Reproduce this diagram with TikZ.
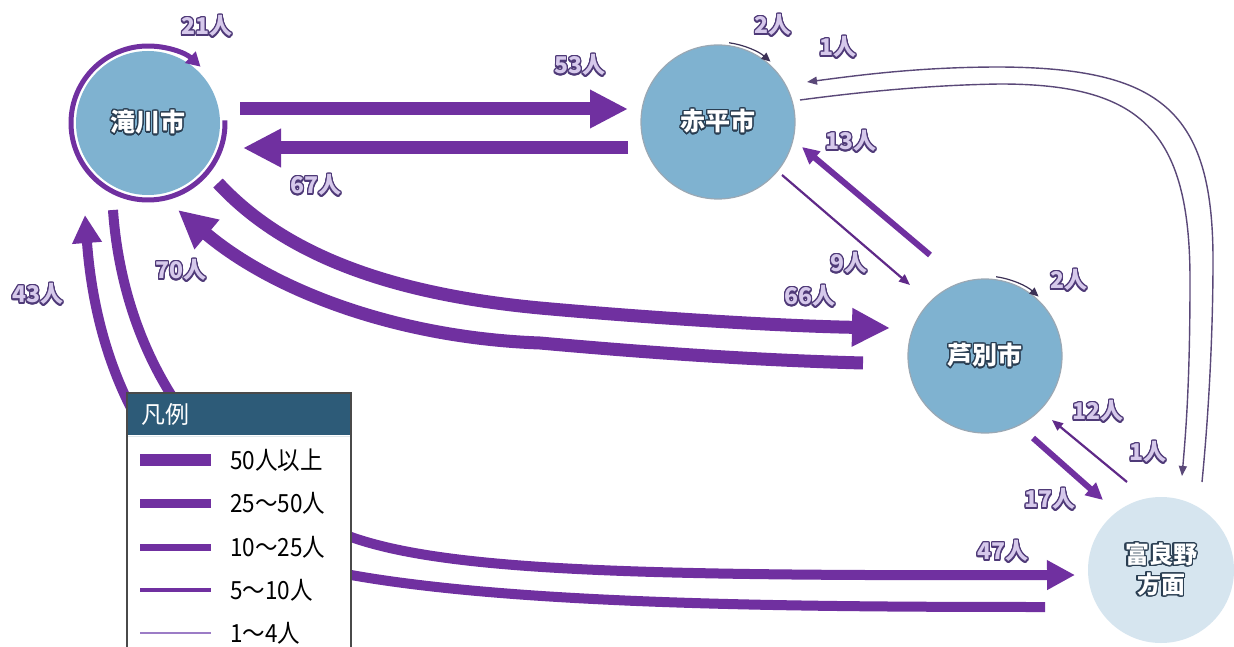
\documentclass[tikz,border=0pt]{standalone}
\usepackage{fontspec}
\setmainfont{Noto Sans CJK JP}
\newfontfamily\legfont{Noto Sans CJK JP}[FakeStretch=0.9]
\usepackage{contour}
\contourlength{1.3pt}
\contournumber{24}
\usetikzlibrary{arrows.meta,calc}

\definecolor{flow}{HTML}{7030A0}
\definecolor{flowlight}{HTML}{9C7CC6}
\definecolor{flowthin}{HTML}{5A4878}
\definecolor{loopdark}{HTML}{3C3156}
\definecolor{cityfill}{HTML}{7FB2D0}
\definecolor{cityedge}{HTML}{9AA8B4}
\definecolor{farfill}{HTML}{D6E5EF}
\definecolor{cityout}{HTML}{2A3E52}
\definecolor{labin}{HTML}{D6C9EB}
\definecolor{labout}{HTML}{4F3A78}
\definecolor{legendhead}{HTML}{2D5B78}
\definecolor{legendedge}{HTML}{4A4A4A}

\newcommand\citytext[1]{\contour{cityout}{#1}}
\newcommand\flowtext[1]{\contour{labout}{#1}}

\begin{document}
\begin{tikzpicture}[x=1pt,y=1pt,
  city/.style={circle, minimum size=154pt, inner sep=0pt, fill=cityfill,
    draw=cityedge, line width=1.2pt, text=white,
    font=\bfseries\fontsize{25}{30}\selectfont},
  farcity/.style={city, minimum size=146pt, fill=farfill, draw=none,
    align=center, font=\bfseries\fontsize{24}{34}\selectfont},
  flowlabel/.style={inner sep=0pt, text=labin,
    font=\bfseries\fontsize{23}{26}\selectfont},
  huge flow/.style={draw=flow, line width=13pt,
    -{Triangle[length=38pt,width=36pt]}},
  large flow/.style={draw=flow, line width=10pt,
    -{Triangle[length=28pt,width=28pt]}},
  mid flow/.style={draw=flow, line width=6pt,
    -{Triangle[length=17pt,width=16pt]}},
  small flow/.style={draw=flow!85!black, line width=2.2pt,
    -{Triangle[length=11pt,width=9pt]}},
  thin flow/.style={draw=flowthin, line width=1.4pt,
    -{Triangle[length=10pt,width=8pt]}},
  tiny loop/.style={draw=loopdark, line width=1.2pt,
    -{Triangle[length=9pt,width=8pt]}},
  legendtext/.style={anchor=west, inner sep=0pt,
    font=\legfont\fontsize{25}{28}\selectfont}
]
\useasboundingbox[fill=white] (0,0) rectangle (1234,-647);

% ---------- cities ----------
\node[city, minimum size=144pt, draw=none] (tk) at (148,-123) {\citytext{滝川市}};
\node[city] (ak) at (718,-122) {\citytext{赤平市}};
\node[city] (as) at (985,-356) {\citytext{芦別市}};
\node[farcity] (fu) at (1161,-570) {\citytext{富良野}\\[-4pt]\citytext{方面}};

% ---------- movements inside a city ----------
\draw[draw=flow, line width=5pt, -{Triangle[length=14pt,width=15pt]}]
  ([shift={(2:77)}]tk.center) arc[start angle=2, end angle=-313, radius=77];
\draw[tiny loop] ([shift={(82:80)}]ak.center) arc[start angle=82, end angle=49, radius=80];
\draw[tiny loop] ([shift={(82:80)}]as.center) arc[start angle=82, end angle=48, radius=80];

% ---------- Takikawa <-> Akabira ----------
\draw[huge flow] ($(tk.center)+(92,14)$) -- ($(ak.center)+(-90,13)$);
\draw[huge flow] ($(ak.center)+(-90,-26)$) -- ($(tk.center)+(95,-25)$);

% ---------- Takikawa <-> Ashibetsu ----------
\draw[huge flow] ($(tk.center)+(70,-60)$)
  .. controls (280,-250) and (380,-293) .. (540,-308)
  .. controls (650,-318) and (780,-326) .. ($(as.center)+(-95,28)$);
\draw[huge flow] ($(as.center)+(-122,-7)$)
  .. controls (750,-360) and (640,-352) .. (540,-343)
  .. controls (400,-338) and (275,-292) .. ($(tk.center)+(30,-87)$);

% ---------- Takikawa <-> Furano ----------
\draw[large flow] ($(tk.center)+(-35,-87)$)
  .. controls (122,-340) and (190,-480) .. (351,-537)
  .. controls (450,-572) and (650,-576) .. ($(fu.center)+(-86,-5)$);
\draw[large flow] ($(fu.center)+(-116,-37)$)
  .. controls (800,-607) and (520,-605) .. (351,-575)
  .. controls (200,-548) and (100,-420) .. ($(tk.center)+(-63,-92)$);

% ---------- Akabira <-> Ashibetsu ----------
\draw[mid flow] ($(as.center)+(-55,101)$) -- ($(ak.center)+(84,-25)$);
\draw[small flow] ($(ak.center)+(64,-53)$) -- ($(as.center)+(-75,71)$);

% ---------- Ashibetsu <-> Furano ----------
\draw[mid flow] ($(as.center)+(48,-82)$) -- ($(fu.center)+(-58,70)$);
\draw[small flow] ($(fu.center)+(-34,88)$) -- ($(as.center)+(67,-64)$);

% ---------- Akabira <-> Furano ----------
\draw[thin flow] ($(ak.center)+(82,22)$)
  .. controls (860,-92) and (930,-85) .. (1000,-84)
  .. controls (1140,-84) and (1190,-130) .. (1190,-280)
  .. controls (1190,-380) and (1186,-430) .. ($(fu.center)+(21,94)$);
\draw[thin flow] ($(fu.center)+(41,88)$)
  .. controls (1210,-400) and (1213,-320) .. (1213,-260)
  .. controls (1213,-110) and (1160,-68) .. (1000,-67)
  .. controls (920,-67) and (860,-75) .. ($(ak.center)+(89,40)$);

% ---------- flow labels ----------
\node[flowlabel] (l21) at (207,-27) {\flowtext{21人}};
\node[flowlabel] (l53) at (580,-66) {\flowtext{53人}};
\node[flowlabel] (l67) at (316,-186) {\flowtext{67人}};
\node[flowlabel] (l2a) at (773,-26) {\flowtext{2人}};
\node[flowlabel] (l1a) at (838,-48) {\flowtext{1人}};
\node[flowlabel] (l13) at (851,-142) {\flowtext{13人}};
\node[flowlabel] (l9) at (849,-264) {\flowtext{9人}};
\node[flowlabel] (l66) at (810,-297) {\flowtext{66人}};
\node[flowlabel] (l2b) at (1069,-281) {\flowtext{2人}};
\node[flowlabel] (l70) at (181,-271) {\flowtext{70人}};
\node[flowlabel] (l43) at (38,-295) {\flowtext{43人}};
\node[flowlabel] (l12) at (1098,-412) {\flowtext{12人}};
\node[flowlabel] (l1b) at (1148,-453) {\flowtext{1人}};
\node[flowlabel] (l17) at (1050,-500) {\flowtext{17人}};
\node[flowlabel] (l47) at (1003,-552) {\flowtext{47人}};

% ---------- legend ----------
\fill[white] (127,-393) rectangle (351,-660);
\fill[legendhead] (127,-393) rectangle (351,-435);
\draw[white!85!legendhead, line width=1.5pt] (128,-436.5) -- (350,-436.5);
\draw[legendedge, line width=1.5pt] (127,-660) -- (127,-393) -- (351,-393) -- (351,-660);
\node[anchor=west, inner sep=0pt, text=white, font=\fontsize{24}{26}\selectfont]
  (legtitle) at (141,-414) {凡例};

\draw[flow, line width=12pt] (140,-460) -- (211,-460);
\draw[flow, line width=9pt] (140,-503) -- (211,-503);
\draw[flow, line width=7pt] (140,-547) -- (211,-547);
\draw[flow, line width=4pt] (140,-590) -- (211,-590);
\draw[flowlight, line width=1.5pt] (140,-633) -- (211,-633);
\node[legendtext] (lg1) at (230,-460) {50人以上};
\node[legendtext] (lg2) at (230,-503) {25〜50人};
\node[legendtext] (lg3) at (230,-547) {10〜25人};
\node[legendtext] (lg4) at (230,-590) {5〜10人};
\node[legendtext] (lg5) at (230,-633) {1〜4人};
\end{tikzpicture}
\end{document}
